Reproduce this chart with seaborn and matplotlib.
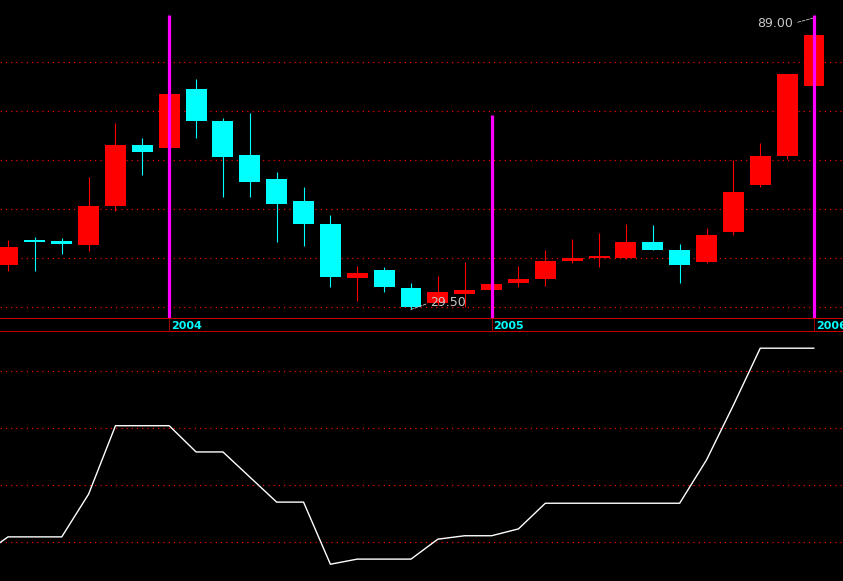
import matplotlib
matplotlib.use("Agg")
import matplotlib.pyplot as plt
import numpy as np
import pandas as pd
import seaborn as sns

# ===== monthly K-line data (2003-07 .. 2006-01) =====
months = pd.date_range("2003-07-01", periods=31, freq="MS")
opens = [38.6, 43.3, 43.5, 42.7, 50.6, 63.1, 62.4, 74.5, 68.0, 61.0, 56.1, 51.6,
         46.9, 35.9, 37.6, 33.9, 30.8, 32.7, 33.5, 34.9, 35.7, 39.4, 40.0, 40.0,
         43.3, 41.6, 39.2, 45.3, 54.9, 60.8, 75.1]
closes = [42.2, 43.2, 42.9, 50.6, 63.1, 61.6, 73.5, 68.0, 60.6, 55.5, 51.0, 46.9,
          36.1, 36.9, 34.1, 30.0, 33.1, 33.5, 34.7, 35.7, 39.4, 40.0, 40.0, 43.3,
          41.6, 38.6, 44.7, 53.5, 60.8, 77.6, 85.5]
highs = [43.7, 44.3, 44.1, 56.5, 67.6, 64.5, 73.6, 76.5, 68.6, 69.6, 57.6, 54.5,
         48.8, 38.4, 38.2, 34.9, 36.3, 39.2, 35.0, 38.4, 41.6, 43.9, 45.1, 46.9,
         46.7, 42.9, 46.1, 60.0, 63.5, 77.6, 89.0]
lows = [37.4, 37.4, 40.8, 41.4, 49.6, 56.9, 62.3, 64.5, 52.5, 52.5, 43.3, 42.5,
        34.1, 31.2, 33.1, 29.5, 30.5, 30.0, 33.3, 34.1, 34.3, 39.0, 38.2, 39.8,
        41.6, 34.9, 39.0, 44.7, 54.5, 60.2, 75.1]

# ===== lower indicator (starts one month earlier, 2003-06) =====
ind_vals = [7.5, 10.9, 10.9, 10.9, 18.4, 30.4, 30.4, 30.4, 25.8, 25.8, 21.4, 17.0,
            17.0, 6.1, 7.0, 7.0, 7.0, 10.5, 11.1, 11.1, 12.3, 16.8, 16.8, 16.8,
            16.8, 16.8, 16.8, 24.4, 34.0, 44.0, 44.0, 44.0]

# year marker lines (index of January, top of the line in price)
year_idx = [6, 18, 30]
year_labels = ["2004", "2005", "2006"]
year_top = [89.6, 69.2, 89.6]

price_grid = [30, 40, 50, 60, 70, 80]
ind_grid = [10, 20, 30, 40]

# ===== style =====
sns.set_theme(style="dark")
plt.rcParams["font.family"] = ["DejaVu Sans"]
RED = "#ff0000"
CYAN = "#00ffff"
MAGENTA = "#ff00ff"
GRID = "#ee0000"
dots = (0, (1, 3.2))

W, H = 843, 581
fig = plt.figure(figsize=(W / 100, H / 100), dpi=100, facecolor="black")
ax = fig.add_axes([0, (H - 318) / H, 1, 318 / H])
band = fig.add_axes([0, (H - 332) / H, 1, 14 / H])
ax2 = fig.add_axes([0, 0, 1, (H - 332) / H])

xlim = (-0.298, 31.08)
for a in (ax, band, ax2):
    a.set_facecolor("black")
    a.set_xlim(*xlim)
    a.set_xticks([])
    a.set_yticks([])
    a.grid(False)
    for s in a.spines.values():
        s.set_visible(False)

# ===== top: candles =====
x = np.arange(len(opens))
o = np.array(opens)
c = np.array(closes)
up = c >= o
cols = np.where(up, RED, CYAN)
ax.set_ylim(27.76, 92.65)
for g in price_grid:
    ax.axhline(g, color=GRID, lw=0.9, ls=dots, zorder=0)
ax.vlines(x, lows, highs, colors=cols, lw=0.8, zorder=2)
body_h = np.maximum(np.abs(c - o), 0.4)
ax.bar(x, body_h, bottom=np.minimum(o, c), width=0.78, color=cols, zorder=3,
       linewidth=0)
ax.vlines(year_idx, 27.76, year_top, colors=MAGENTA, lw=2.3, zorder=4)

ax.annotate("89.00", xy=(30, 89.0), xytext=(-15, -4), textcoords="offset points",
            ha="right", va="center", color="#c8c8c8", fontsize=9,
            arrowprops=dict(arrowstyle="-", color="#c8c8c8", lw=0.6, ls="--",
                            relpos=(1, 0.5), shrinkA=1, shrinkB=0))
ax.annotate("29.50", xy=(15, 29.5), xytext=(14, 5), textcoords="offset points",
            ha="left", va="center", color="#c8c8c8", fontsize=9, zorder=5,
            arrowprops=dict(arrowstyle="-", color="#c8c8c8", lw=0.6, ls="--",
                            relpos=(0, 0.5), shrinkA=1, shrinkB=0))

# ===== year band =====
band.set_ylim(0, 1)
band.axhline(1, color="#e00000", lw=1.3)
band.axhline(0, color="#e00000", lw=1.3)
band.vlines(year_idx, 0, 1, colors="#a00000", lw=0.7)
for xi, lab in zip(year_idx, year_labels):
    band.text(xi + 0.07, 0.45, lab, color=CYAN, fontsize=8, fontweight="bold",
              ha="left", va="center")

# ===== bottom: indicator line =====
ax2.set_ylim(3.16, 46.84)
for g in ind_grid:
    ax2.axhline(g, color=GRID, lw=0.9, ls=dots, zorder=0)
ind_x = np.arange(-1, len(ind_vals) - 1)
sns.lineplot(x=ind_x, y=ind_vals, ax=ax2, color="white", lw=1, zorder=3)
ax2.set_xlim(*xlim)
ax2.set_xlabel("")
ax2.set_ylabel("")
ax2.set_xticks([])
ax2.set_yticks([])

fig.savefig("out.png", dpi=100, facecolor="black")
